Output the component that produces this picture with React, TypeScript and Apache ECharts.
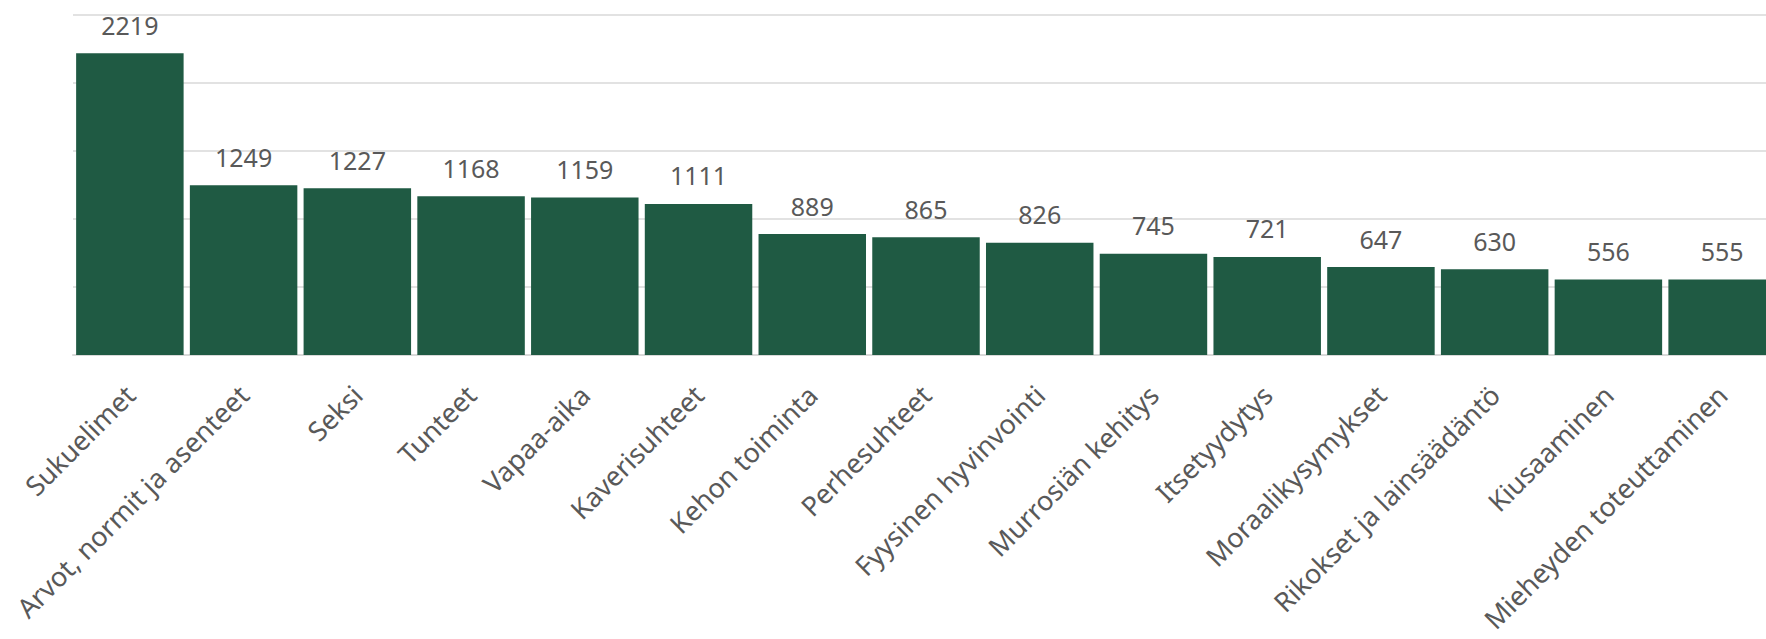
import React, { useEffect, useRef } from "react";
import * as echarts from "echarts";

const categories = [
  "Sukuelimet",
  "Arvot, normit ja asenteet",
  "Seksi",
  "Tunteet",
  "Vapaa-aika",
  "Kaverisuhteet",
  "Kehon toiminta",
  "Perhesuhteet",
  "Fyysinen hyvinvointi",
  "Murrosiän kehitys",
  "Itsetyydytys",
  "Moraalikysymykset",
  "Rikokset ja lainsäädäntö",
  "Kiusaaminen",
  "Mieheyden toteuttaminen",
];

const values = [2219, 1249, 1227, 1168, 1159, 1111, 889, 865, 826, 745, 721, 647, 630, 556, 555];

const yMin = 0;
const yMax = 2500;
const yInterval = 500;

const FONT = "'Noto Sans', sans-serif";
const TEXT = "#595959";
const BAR = "#1f5a43";
const GRID = "#d9d9d9";

export default function App() {
  const ref = useRef<HTMLDivElement>(null);
  useEffect(() => {
    const chart = echarts.init(ref.current!, null, { renderer: "svg" });
    chart.setOption({
      animation: false,
      backgroundColor: "#ffffff",
      grid: { left: 73, right: 11, top: 15, bottom: 284, containLabel: false },
      xAxis: {
        type: "category",
        data: categories,
        axisLine: { show: true, lineStyle: { color: GRID, width: 2 } },
        axisTick: { show: false },
        axisLabel: {
          rotate: 45,
          interval: 0,
          margin: 35,
          color: TEXT,
          fontSize: 27,
          fontFamily: FONT,
        },
      },
      yAxis: {
        type: "value",
        min: yMin,
        max: yMax,
        interval: yInterval,
        axisLabel: { show: false },
        axisLine: { show: false },
        axisTick: { show: false },
        splitLine: { show: true, lineStyle: { color: GRID, width: 1.5 } },
      },
      series: [
        {
          type: "bar",
          data: values,
          barCategoryGap: "5.5%",
          itemStyle: { color: BAR },
          label: {
            show: true,
            position: "top",
            distance: 16,
            color: TEXT,
            fontSize: 25,
            fontFamily: FONT,
          },
        },
      ],
    });
    return () => chart.dispose();
  }, []);
  return (
    <div
      style={{
        position: "absolute",
        left: 0,
        top: 0,
        width: 1766,
        height: 639,
        overflow: "hidden",
        background: "#ffffff",
      }}
    >
      <div ref={ref} style={{ width: 1790, height: 639 }} />
    </div>
  );
}
